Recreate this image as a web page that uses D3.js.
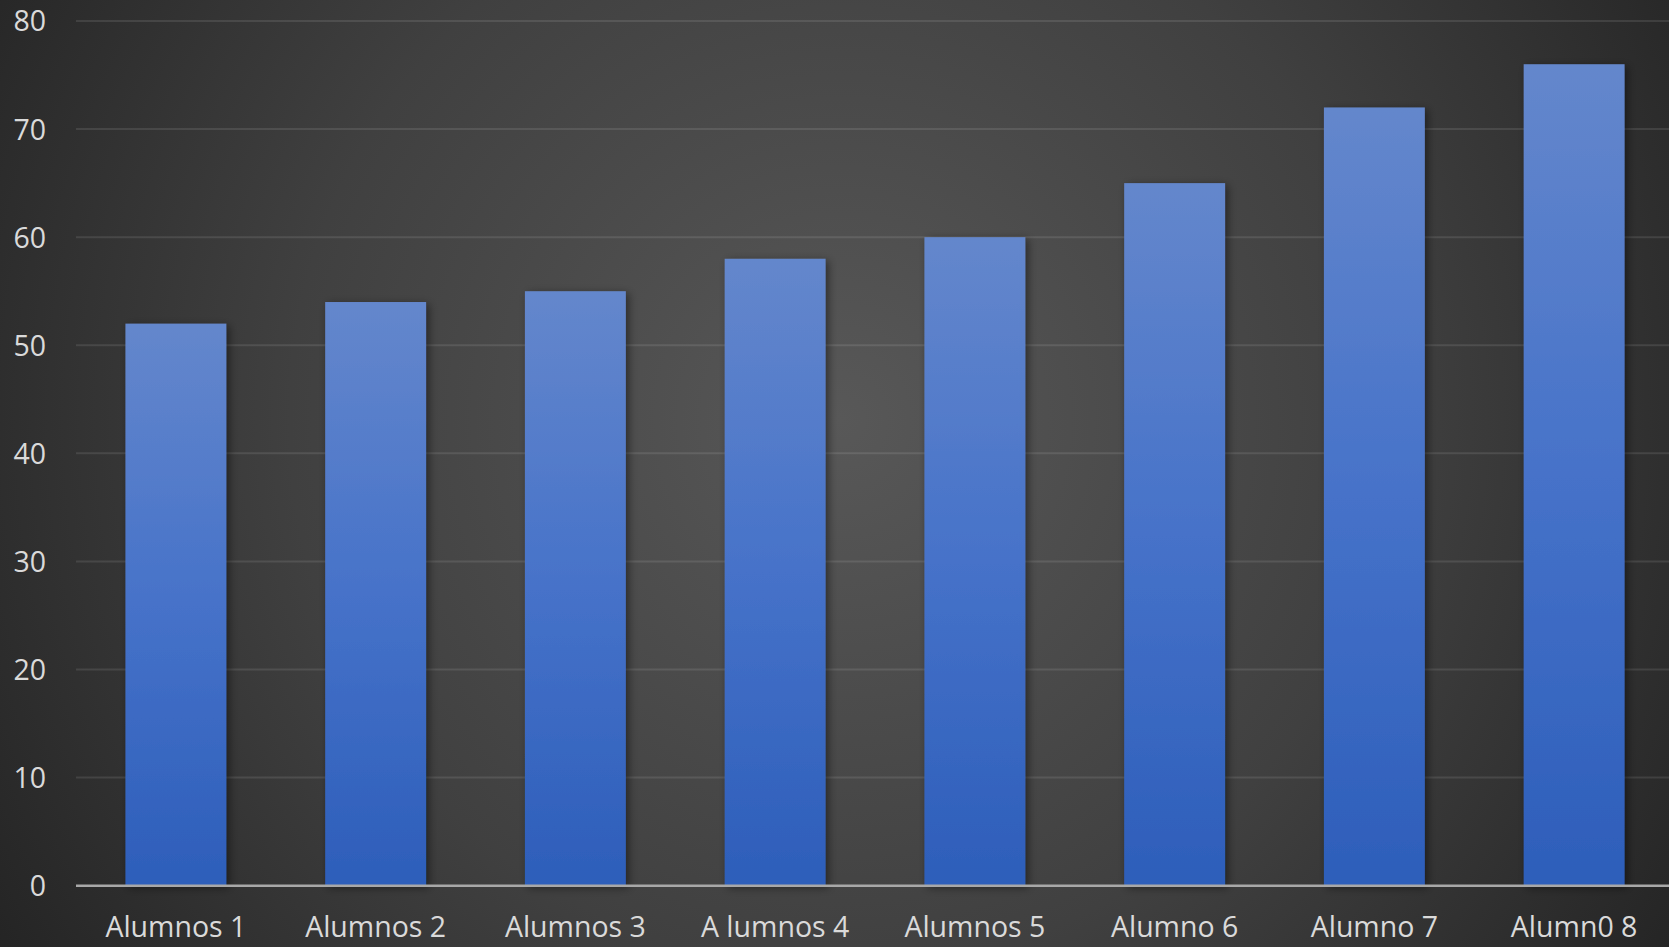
<!DOCTYPE html>
<html><head><meta charset="utf-8">
<script src="https://cdn.jsdelivr.net/npm/d3@7"></script>
<style>html,body{margin:0;padding:0;background:#2b2b2b;overflow:hidden}</style>
</head><body>
<svg id="chart" width="1669" height="947"></svg>
<script>
const categories = ["Alumnos 1","Alumnos 2","Alumnos 3","A lumnos 4","Alumnos 5","Alumno 6","Alumno 7","Alumn0 8"];
const values = [52, 54, 55, 58, 60, 65, 72, 76];
const yTicks = [0,10,20,30,40,50,60,70,80];

const W = 1669, H = 947;
const svg = d3.select("#chart");
const defs = svg.append("defs");

const bg = defs.append("radialGradient").attr("id","bg")
  .attr("gradientUnits","userSpaceOnUse").attr("cx",840).attr("cy",420).attr("r",1000);
bg.append("stop").attr("offset","0").attr("stop-color","#585858");
bg.append("stop").attr("offset","0.55").attr("stop-color","#404040");
bg.append("stop").attr("offset","1").attr("stop-color","#242424");

const barG = defs.append("linearGradient").attr("id","barg").attr("x1",0).attr("y1",0).attr("x2",0).attr("y2",1);
barG.append("stop").attr("offset","0").attr("stop-color","#6487cc");
barG.append("stop").attr("offset","0.5").attr("stop-color","#4672c9");
barG.append("stop").attr("offset","1").attr("stop-color","#2d5eba");

const f = defs.append("filter").attr("id","sh").attr("x","-20%").attr("y","-10%").attr("width","140%").attr("height","120%");
f.append("feDropShadow").attr("dx",3).attr("dy",2).attr("stdDeviation",4).attr("flood-color","#000").attr("flood-opacity",0.45);

svg.append("rect").attr("width",W).attr("height",H).attr("fill","url(#bg)");

const x = d3.scaleBand().domain(categories).range([76, 1674]).paddingInner(0.495).paddingOuter(0.2475);
const y = d3.scaleLinear().domain([0,80]).range([885.7, 21]);

// gridlines
svg.append("g").selectAll("line").data(yTicks.filter(d=>d>0)).join("line")
  .attr("x1",76).attr("x2",W).attr("y1",d=>y(d)).attr("y2",d=>y(d))
  .attr("stroke","#ffffff").attr("stroke-opacity",0.1).attr("stroke-width",2);

// bars
svg.append("g").selectAll("rect").data(values).join("rect")
  .attr("x",(d,i)=>x(categories[i])).attr("width",x.bandwidth())
  .attr("y",d=>y(d)).attr("height",d=>y(0)-y(d))
  .attr("fill","url(#barg)").attr("filter","url(#sh)");

// baseline
svg.append("line").attr("x1",76).attr("x2",W).attr("y1",y(0)).attr("y2",y(0))
  .attr("stroke","#a8a8a8").attr("stroke-width",2.5);

// y axis
const yAxis = d3.axisLeft(y).tickValues(yTicks).tickSize(0).tickPadding(0);
const ya = svg.append("g").attr("transform","translate(46,0)").call(yAxis);
ya.select(".domain").remove();
ya.selectAll("text").attr("fill","#dadada").style("font-family","'Open Sans', sans-serif").style("font-size","28.5px").attr("dy","0.35em");

// x axis
const xAxis = d3.axisBottom(x).tickSize(0).tickPadding(0);
const xa = svg.append("g").call(xAxis);
xa.select(".domain").remove();
xa.selectAll("text").attr("fill","#dadada").style("font-family","'Open Sans', sans-serif").style("font-size","28.5px")
  .attr("y",937).attr("dy",0);
</script>
</body></html>
